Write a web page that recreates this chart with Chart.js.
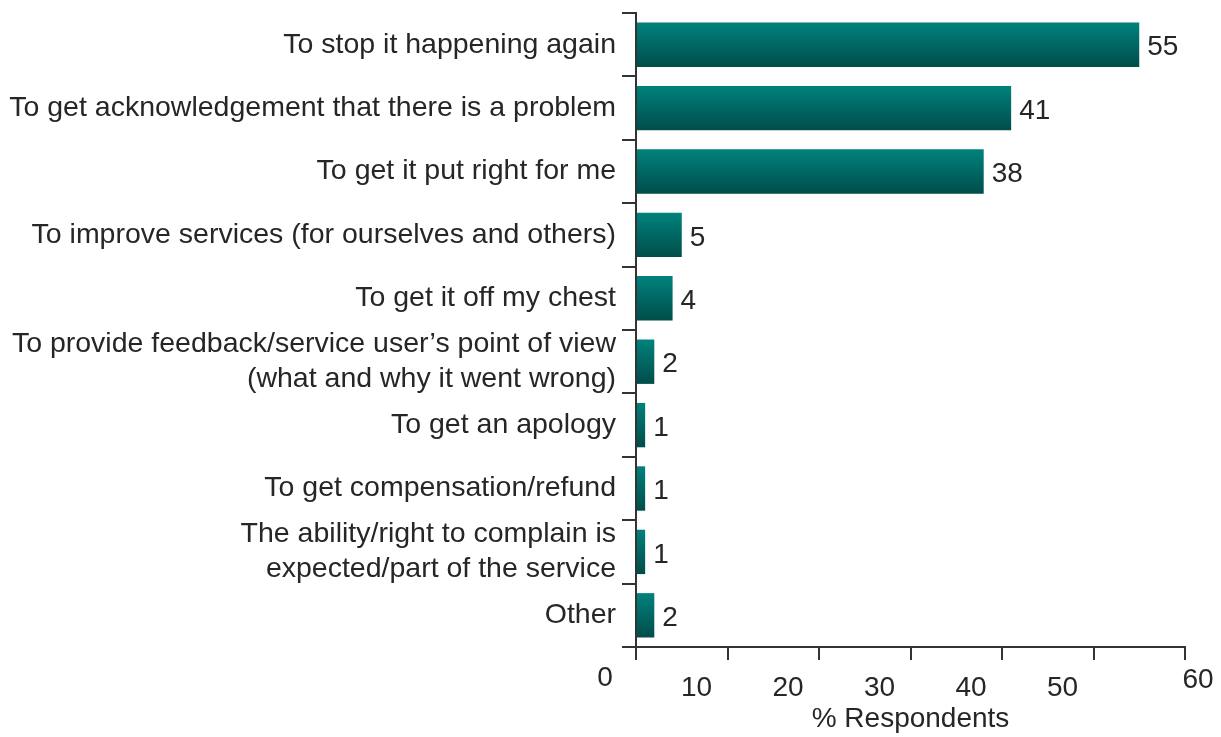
<!DOCTYPE html>
<html>
<head>
<meta charset="utf-8">
<script src="https://cdn.jsdelivr.net/npm/chart.js@4"></script>
<style>
  body { margin: 0; background: #fff; }
  #wrap { width: 1221px; height: 737px; }
</style>
</head>
<body>
<div id="wrap"><canvas id="chart" width="1221" height="737"></canvas></div>
<script>
const reasons = [
  "To stop it happening again",
  "To get acknowledgement that there is a problem",
  "To get it put right for me",
  "To improve services (for ourselves and others)",
  "To get it off my chest",
  ["To provide feedback/service user\u2019s point of view", "(what and why it went wrong)"],
  "To get an apology",
  "To get compensation/refund",
  ["The ability/right to complain is", "expected/part of the service"],
  "Other"
];
const respondents = [55, 41, 38, 5, 4, 2, 1, 1, 1, 2];
const xTicks = [0, 10, 20, 30, 40, 50, 60];
const axisTitle = "% Respondents";

const FONT = "'Liberation Sans', Arial, sans-serif";
const TEXT = "#262626";
const AXIS = "#333333";

// bar fill: vertical teal gradient over each bar
const barFill = (ctx) => {
  const chart = ctx.chart;
  const yScale = chart.scales.y;
  if (!yScale || ctx.dataIndex === undefined) return "#006b66";
  const yc = yScale.getPixelForValue(ctx.dataIndex);
  const half = yScale.height / reasons.length * 0.7 / 2;
  if (!isFinite(yc) || !isFinite(half) || half <= 0) return "#006b66";
  const g = chart.ctx.createLinearGradient(0, yc - half, 0, yc + half);
  g.addColorStop(0, "#00827c");
  g.addColorStop(1, "#004d4a");
  return g;
};

// numbers at the end of each bar
const valueLabels = {
  id: "valueLabels",
  afterDatasetsDraw(chart) {
    const ctx = chart.ctx;
    ctx.save();
    ctx.font = "28px " + FONT;
    ctx.fillStyle = TEXT;
    ctx.textAlign = "left";
    ctx.textBaseline = "middle";
    chart.getDatasetMeta(0).data.forEach((bar, i) => {
      ctx.fillText(String(respondents[i]), bar.x + 8, bar.y + 3);
    });
    ctx.restore();
  }
};

// x tick labels, offset like the original artwork
const xLabels = {
  id: "xLabels",
  afterDraw(chart) {
    const ctx = chart.ctx;
    const x = chart.scales.x;
    ctx.save();
    ctx.font = "28px " + FONT;
    ctx.fillStyle = TEXT;
    ctx.textAlign = "center";
    ctx.textBaseline = "middle";
    xTicks.forEach((v, i) => {
      let dx = -31, top = 41;
      if (i === 0) top = 31;
      if (i === xTicks.length - 1) { dx = 13; top = 33; }
      ctx.fillText(String(v), x.getPixelForValue(v) + dx, x.top + top);
    });
    ctx.restore();
  }
};

const chart = new Chart(document.getElementById("chart"), {
  type: "bar",
  data: {
    labels: reasons,
    datasets: [{
      data: respondents,
      backgroundColor: barFill,
      borderWidth: 0,
      barPercentage: 0.7,
      categoryPercentage: 1
    }]
  },
  options: {
    indexAxis: "y",
    responsive: false,
    animation: false,
    layout: { padding: { top: 13, right: 36, left: 0, bottom: 0 } },
    plugins: { legend: { display: false }, tooltip: { enabled: false } },
    scales: {
      y: {
        afterFit: (scale) => {
          scale.width = 636;
          scale.paddingTop = 0;
          scale.paddingBottom = 0;
        },
        grid: { drawOnChartArea: false, tickLength: 14, color: AXIS, lineWidth: 2 },
        border: { color: AXIS, width: 2 },
        ticks: {
          autoSkip: false,
          padding: 6,
          color: TEXT,
          font: { family: FONT, size: 28.5, lineHeight: 1.22 }
        }
      },
      x: {
        min: 0,
        max: 60,
        afterFit: (scale) => {
          scale.height = 90;
          scale.paddingLeft = 0;
          scale.paddingRight = 0;
        },
        grid: { drawOnChartArea: false, tickLength: 13, color: AXIS, lineWidth: 2 },
        border: { color: AXIS, width: 2 },
        ticks: { stepSize: 10, display: false },
        title: {
          display: true,
          text: axisTitle,
          color: TEXT,
          font: { family: FONT, size: 28 },
          padding: { top: 0, bottom: 1 }
        }
      }
    }
  },
  plugins: [valueLabels, xLabels]
});
// second pass so the gradients are built with the laid-out scale
chart.update();
</script>
</body>
</html>
